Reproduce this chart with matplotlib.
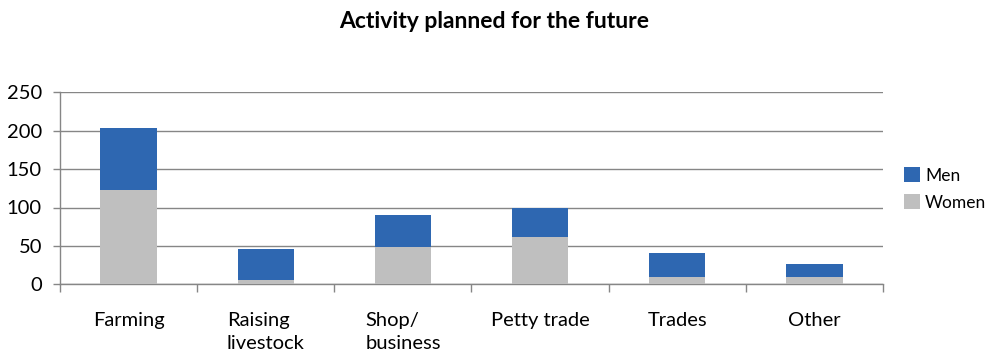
import matplotlib
matplotlib.use("Agg")
import matplotlib.pyplot as plt
import numpy as np

plt.rcParams['font.family'] = ['Lato', 'DejaVu Sans']

categories = ["Farming", "Raising\nlivestock", "Shop/\nbusiness", "Petty trade", "Trades", "Other"]
women = [123, 6, 49, 62, 10, 10]
men = [81, 40, 41, 38, 31, 16]
y_ticks = [0, 50, 100, 150, 200, 250]

blue = "#2E67B1"
grey = "#BFBFBF"
axis_col = "#868686"

fig = plt.figure(figsize=(9.87, 3.54), dpi=100)
ax = fig.add_axes([60/987, 69.7/354, 823/987, 192/354])

x = np.arange(len(categories))
w = 0.41
ax.bar(x, women, width=w, color=grey, label="Women", zorder=3)
ax.bar(x, men, width=w, bottom=women, color=blue, label="Men", zorder=3)

ax.set_xlim(-0.5, len(categories) - 0.5)
ax.set_ylim(0, 250)
ax.set_yticks(y_ticks)
ax.yaxis.grid(True, color=axis_col, linewidth=1.0, zorder=0)
ax.tick_params(axis='y', length=5, width=1, color=axis_col, pad=8, labelsize=14.5)

ax.set_xticks(x)
ax.set_xticklabels(categories, fontsize=14.5, multialignment='left', va='top',
                   linespacing=1.45)
ax.tick_params(axis='x', which='major', length=0, pad=20)
ax.set_xticks(np.arange(-0.5, len(categories)), minor=True)
ax.tick_params(axis='x', which='minor', length=6, color=axis_col, width=1)

for s in ['top', 'right']:
    ax.spines[s].set_visible(False)
for s in ['left', 'bottom']:
    ax.spines[s].set_color(axis_col)
    ax.spines[s].set_linewidth(1.0)

h, l = ax.get_legend_handles_labels()
fig.legend(h[::-1], l[::-1], loc='center left', bbox_to_anchor=(904/987, 1 - 189/354),
           frameon=False, fontsize=12.5, handlelength=0.92, handleheight=0.92,
           handletextpad=0.3, labelspacing=0.6, borderaxespad=0, borderpad=0)

fig.text(494/987, 1 - 22/354, "Activity planned for the future", ha='center', va='center',
         fontsize=16.5, fontweight='bold')

fig.savefig("out.png", dpi=100)
